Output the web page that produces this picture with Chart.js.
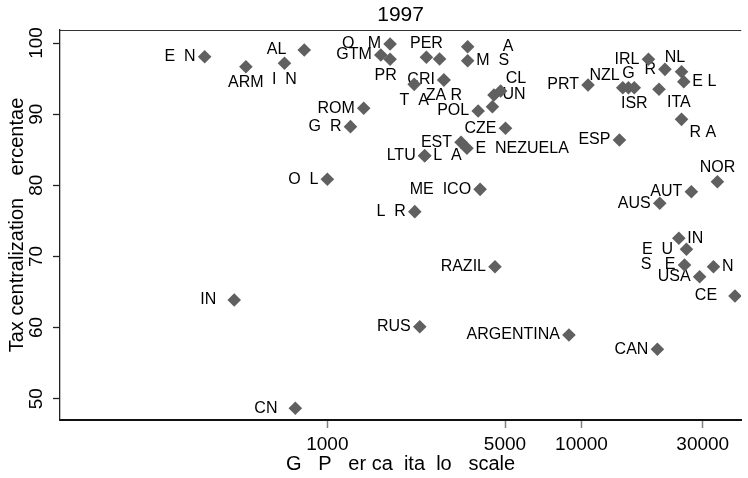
<!DOCTYPE html>
<html>
<head>
<meta charset="utf-8">
<script src="https://cdn.jsdelivr.net/npm/chart.js@4.4.0/dist/chart.umd.min.js"></script>
<style>
  html, body { margin: 0; padding: 0; background: #fff; }
</style>
</head>
<body>
<canvas id="chart" width="748" height="478"></canvas>
<script>
// 1997: GDP per capita (log) vs tax centralization
const countries = ['E  N', 'ARM', 'AL  ', 'I  N', 'O   M', 'GTM', 'PR  ', 'PER', '', '      A',
  'M  S', 'T  A', 'CRI', 'ZA R', 'CL', 'UN', '', 'POL', 'CZE', 'EST',
  'E  NEZUELA', 'LTU', 'L  A', 'ROM', 'G  R', 'O  L', 'ME  ICO', 'L  R', 'RAZIL', 'RUS',
  'ARGENTINA', 'CAN', 'CN  ', 'IN  ', 'PRT', 'NZL', 'G', 'ISR', 'IRL', 'R',
  'NL   ', 'E L', 'ITA', 'R A', 'ESP', 'NOR', 'AUT', 'AUS', 'IN', 'E  U ',
  'S   E', 'N', 'USA', 'CE  '];
const gdp = [329, 478, 811, 678, 1765, 1623, 1765, 2453, 2764, 3565,
  3565, 2196, 2874, 2874, 4806, 4524, 4461, 3921, 5023, 3357,
  3542, 2415, 2415, 1390, 1233, 1000, 3990, 2208, 4566, 2310,
  8925, 19890, 748, 430, 10610, 14530, 15300, 16130, 18340, 21300,
  24750, 25260, 20180, 24750, 14100, 34260, 27060, 20320, 24150, 25880,
  25430, 33060, 29160, 40170];
const tax = [98.07, 96.67, 99.02, 97.15, 99.86, 98.31, 97.71, 97.99, 97.75, 99.48,
  97.51, 94.19, 94.80, 94.80, 93.25, 92.69, 91.05, 90.44, 88.01, 86.04,
  85.20, 84.16, 84.16, 90.82, 88.24, 80.84, 79.43, 76.29, 68.55, 60.12,
  58.95, 56.94, 48.65, 63.87, 94.10, 93.72, 93.72, 93.72, 97.71, 96.30,
  95.97, 94.56, 93.49, 89.27, 86.36, 80.50, 79.10, 77.47, 72.55, 71.00,
  68.79, 68.55, 67.15, 64.44];
const xTicks = [1000, 5000, 10000, 30000];
const yTicks = [50, 60, 70, 80, 90, 100];

// marker label placement, clock positions as in Stata
const labelPos = [9, 6, 9, 6, 9, 9, 6, 12, 9, 3,
  3, 6, 9, 6, 1, 3, 9, 9, 9, 9,
  3, 9, 3, 9, 9, 9, 9, 9, 9, 9,
  9, 9, 9, 9, 9, 11, 12, 6, 9, 9,
  12, 3, 5, 5, 9, 12, 9, 9, 3, 9,
  9, 3, 9, 9];

const FONT = '"Liberation Sans", Arial, Helvetica, sans-serif';
Chart.defaults.font.family = FONT;
Chart.defaults.color = '#000';

const clock = {
  1: [5, -12, 'left'], 3: [8.5, 0, 'left'], 5: [8, 13, 'left'], 6: [0, 16, 'center'],
  9: [-9, 0, 'right'], 11: [-3, -12, 'right'], 12: [0, -14, 'center']
};

const markerLabels = {
  id: 'markerLabels',
  beforeDatasetsDraw(chart) {
    const ctx = chart.ctx;
    const meta = chart.getDatasetMeta(0);
    ctx.save();
    ctx.font = '16px ' + FONT;
    ctx.fillStyle = '#000';
    ctx.textBaseline = 'middle';
    meta.data.forEach((pt, i) => {
      const c = clock[labelPos[i]];
      ctx.textAlign = c[2];
      ctx.fillText(countries[i], pt.x + c[0], pt.y + c[1]);
    });
    ctx.restore();
  }
};

const topLine = {
  id: 'topLine',
  afterDraw(chart) {
    const a = chart.chartArea, ctx = chart.ctx;
    ctx.save();
    ctx.strokeStyle = '#333';
    ctx.lineWidth = 1.2;
    ctx.beginPath();
    ctx.moveTo(a.left, a.top + 0.5);
    ctx.lineTo(a.right, a.top + 0.5);
    ctx.stroke();
    ctx.restore();
  }
};

new Chart(document.getElementById('chart'), {
  type: 'scatter',
  data: {
    datasets: [{
      data: gdp.map((g, i) => ({ x: g, y: tax[i] })),
      pointStyle: 'rectRot',
      pointRadius: 6.8,
      pointHoverRadius: 6.8,
      backgroundColor: '#606060',
      borderWidth: 0
    }]
  },
  options: {
    responsive: false,
    animation: false,
    events: [],
    layout: { padding: 0 },
    plugins: {
      legend: { display: false },
      tooltip: { enabled: false },
      title: {
        display: true,
        text: '1997',
        fullSize: false,
        color: '#000',
        font: { size: 21, weight: 'normal' },
        padding: { top: 2.5, bottom: 2.3 }
      }
    },
    scales: {
      x: {
        type: 'logarithmic',
        min: 88.7,
        max: 42500,
        afterBuildTicks: s => { s.ticks = xTicks.map(v => ({ value: v })); },
        afterFit: s => { s.height = 58; },
        grid: { drawOnChartArea: false, tickLength: 8, tickColor: '#808080', tickWidth: 1.5 },
        border: { color: '#111', width: 2 },
        ticks: { font: { size: 19 }, padding: 5, maxRotation: 0, callback: v => String(v) },
        title: {
          display: true,
          text: 'G   P   er ca  ita  lo   scale',
          font: { size: 20 },
          padding: { top: 0, bottom: 1.5 }
        }
      },
      y: {
        min: 47.0,
        max: 101.83,
        afterBuildTicks: s => { s.ticks = yTicks.map(v => ({ value: v })); },
        afterFit: s => { s.width = 60; },
        grid: { drawOnChartArea: false, tickLength: 7, tickColor: '#222', tickWidth: 1.3 },
        border: { color: '#222', width: 1.3 },
        ticks: { font: { size: 19 }, padding: 0, minRotation: 90, maxRotation: 90, crossAlign: 'center' },
        title: {
          display: true,
          text: 'Tax centralization    ercentae',
          font: { size: 20 },
          padding: { top: 5, bottom: 0 }
        }
      }
    }
  },
  plugins: [markerLabels, topLine]
});
</script>
</body>
</html>
